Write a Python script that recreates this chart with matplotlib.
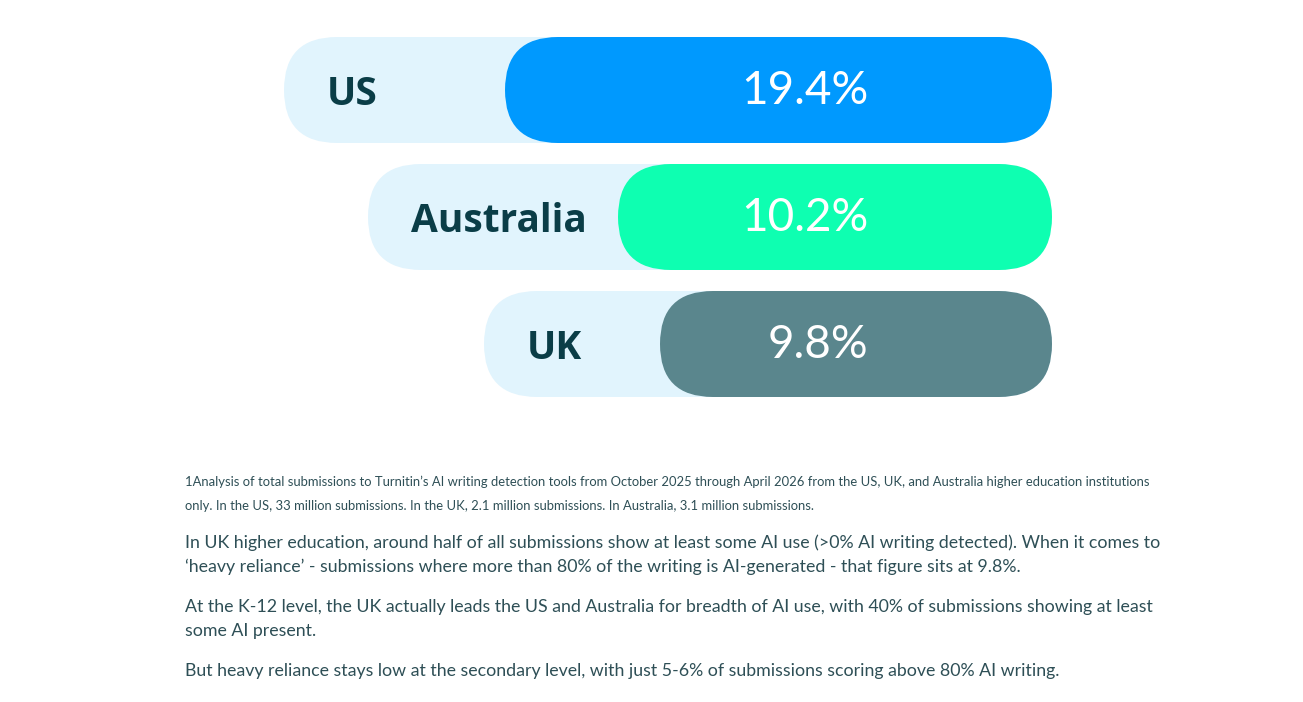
import matplotlib.pyplot as plt
from matplotlib.patches import FancyBboxPatch

# Data
countries = ["US", "Australia", "UK"]
values = [19.4, 10.2, 9.8]
track_len = [768, 684, 568]   # length of the light pill (px)
fill_len = [547, 434, 392]    # length of the coloured pill (px)
fill_colors = ["#0099FE", "#0EFFB1", "#5A868D"]

footnote = ("1Analysis of total submissions to Turnitin\u2019s AI writing detection tools from October 2025 "
            "through April 2026 from the US, UK, and Australia higher education institutions\n"
            "only. In the US, 33 million submissions. In the UK, 2.1 million submissions. "
            "In Australia, 3.1 million submissions.")
paragraphs = [
    "In UK higher education, around half of all submissions show at least some AI use (>0% AI writing "
    "detected). When it comes to\n\u2018heavy reliance\u2019 - submissions where more than 80% of the "
    "writing is AI-generated - that figure sits at 9.8%.",
    "At the K-12 level, the UK actually leads the US and Australia for breadth of AI use, with 40% of "
    "submissions showing at least\nsome AI present.",
    "But heavy reliance stays low at the secondary level, with just 5-6% of submissions scoring above "
    "80% AI writing.",
]

track_color = "#E1F4FD"
label_color = "#0A3D47"
text_color = "#2E4F56"

W, H = 1303, 702
right_px = 1052   # common right edge of the pills
row_px = 127      # distance between rows
top_px = 90       # centre of first row
bar_h = 106 / row_px

fig = plt.figure(figsize=(W / 100, H / 100), dpi=100)
ax = fig.add_axes([0, 0, 1, 1])
ax.set_xlim(-right_px, W - right_px)
ax.set_ylim((H - top_px) / row_px, -top_px / row_px)
ax.axis("off")

r = 53  # pill radius in px
for i, (name, val) in enumerate(zip(countries, values)):
    # light track
    ax.add_patch(FancyBboxPatch((-track_len[i], i - bar_h / 2), track_len[i], bar_h,
                                boxstyle=f"round,pad=0,rounding_size={r}",
                                mutation_aspect=1 / row_px, fc=track_color, ec="none"))
    # coloured fill
    ax.add_patch(FancyBboxPatch((-fill_len[i], i - bar_h / 2), fill_len[i], bar_h,
                                boxstyle=f"round,pad=0,rounding_size={r}",
                                mutation_aspect=1 / row_px, fc=fill_colors[i], ec="none"))
    ax.text(-track_len[i] + 43, i, name, ha="left", va="center_baseline",
            fontsize=28, fontweight="bold", family="Open Sans", color=label_color)
    ax.text(-184, i - 3 / row_px, f"{val}%", ha="right", va="center_baseline",
            fontsize=33, family="Lato", color="white")

# footnote and body text
fig.text(185 / W, 1 - 494 / H, footnote, ha="left", va="center", fontsize=9.4,
         family="Lato", color=text_color, linespacing=2.2)
para_y = [555, 619, 671]
for y, p in zip(para_y, paragraphs):
    fig.text(185 / W, 1 - y / H, p, ha="left", va="center", fontsize=12.8,
             family="Lato", color=text_color, linespacing=1.55)

fig.savefig("out.png", dpi=100, facecolor="white")
